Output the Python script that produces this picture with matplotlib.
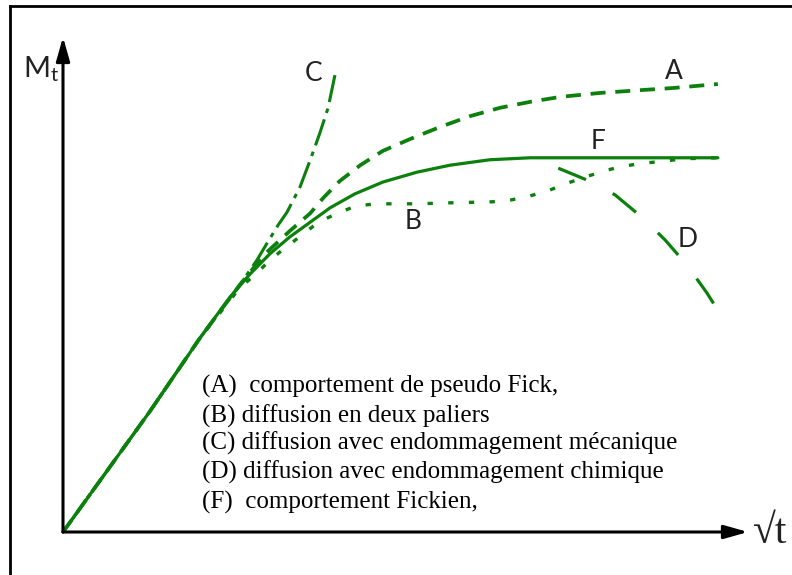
import matplotlib.pyplot as plt
from matplotlib.lines import Line2D

# Sorption curves M_t vs sqrt(t), arbitrary units (0-100 on both axes)
x_F = [0, 12.7, 20.0, 24.4, 27.3, 30.2, 33.1, 36.1, 39.0, 42.6, 46.7, 51.7, 56.5, 62.3, 68.2, 78.4, 95.6]
y_F = [0, 24.4, 39.2, 47.5, 52.1, 56.2, 59.6, 62.6, 65.5, 68.3, 70.7, 72.7, 74.1, 75.2, 75.6, 75.6, 75.6]

x_A = [0, 12.7, 20.0, 25.8, 29.5, 33.1, 36.1, 38.0, 40.4, 43.4, 46.7, 50.7, 55.0, 59.4, 63.8, 68.2,
       72.6, 78.4, 84.7, 89.1, 95.6]
y_A = [0, 24.4, 39.2, 49.9, 56.2, 60.8, 64.4, 67.5, 70.9, 74.1, 77.0, 79.4, 81.8, 84.0, 85.7, 86.9,
       87.9, 88.7, 89.3, 89.7, 90.5]

x_B = [0, 12.7, 20.0, 25.8, 28.3, 30.2, 32.4, 34.9, 37.1, 40.0, 42.9, 45.8, 51.7, 56.5, 62.6, 65.5,
       68.2, 71.1, 73.7, 76.2, 79.4, 81.8, 84.7, 87.6, 90.5, 95.6]
y_B = [0, 24.4, 39.2, 49.3, 52.3, 54.9, 57.4, 60.0, 62.4, 64.4, 65.9, 66.3, 66.3, 66.5, 66.7, 67.1,
       67.9, 69.1, 70.5, 71.7, 73.1, 73.9, 74.5, 74.9, 75.4, 75.6]

x_C = [0, 12.7, 20.0, 25.8, 28.3, 29.9, 31.4, 32.7, 34.6, 36.1, 37.5, 38.7, 39.7]
y_C = [0, 24.4, 39.2, 49.9, 54.9, 58.6, 62.0, 64.6, 69.7, 75.2, 80.6, 85.7, 92.3]

x_D = [72.3, 76.5, 80.6, 84.5, 87.9, 91.1, 94.0, 95.6]
y_D = [73.5, 71.1, 68.1, 63.6, 59.0, 53.9, 48.3, 44.8]

curve_labels = ["C", "A", "F", "B", "D"]
label_x = [36.6, 89.2, 78.1, 51.1, 91.2]
label_y = [92.7, 93.1, 78.8, 62.8, 59.0]

legend_lines = [
    "(A)  comportement de pseudo Fick,",
    "(B) diffusion en deux paliers",
    "(C) diffusion avec endommagement mécanique",
    "(D) diffusion avec endommagement chimique",
    "(F)  comportement Fickien,",
]

green = "#0c800c"

fig = plt.figure(figsize=(7.92, 5.75), dpi=100)
ax = fig.add_axes([0, 0, 1, 1])
ax.set_xlim(-63 / 6.85, (792 - 63) / 6.85)
ax.set_ylim(-(575 - 532) / 4.95, 532 / 4.95)
ax.axis("off")

# outer frame (left and top edges only)
fig.add_artist(Line2D([0.012, 0.012], [0, 0.9887], transform=fig.transFigure, color="black", lw=2))
fig.add_artist(Line2D([0.012, 1], [0.9887, 0.9887], transform=fig.transFigure, color="black", lw=2))

# axes with arrow heads
arrow = dict(arrowstyle="-|>,head_length=0.6,head_width=0.17", lw=2.2, color="black",
             mutation_scale=24, shrinkA=0, shrinkB=0)
ax.annotate("", xy=(0, 100), xytext=(0, 0), arrowprops=arrow)
ax.annotate("", xy=(100, 0), xytext=(0, 0), arrowprops=arrow)

ax.text(-5.84, 91.9, r"$\mathregular{M_t}$", fontsize=21, family="Lato", color="#222222",
        ha="left", va="baseline")
ax.text(100.7, -2.2, "√t", fontsize=30, family="Liberation Serif", color="#222222",
        ha="left", va="baseline")

# curves
ax.plot(x_F, y_F, color=green, lw=2.3, solid_capstyle="round")
ax.plot(x_A, y_A, color=green, lw=2.7, linestyle=(0, (4.0, 2.6)))
ax.plot(x_B, y_B, color=green, lw=2.4, linestyle=(0, (1.6, 4.6)))
# dash-dot drawn from the top end so the pattern starts with a full dash there
ax.plot(x_C[::-1], y_C[::-1], color=green, lw=2.2, linestyle=(0, (9, 2.2, 1.5, 2.2)))
ax.plot(x_D, y_D, color=green, lw=2.3, linestyle=(0, (9.4, 9.4)))

for name, lx, ly in zip(curve_labels, label_x, label_y):
    ax.text(lx, ly, name, fontsize=19, family="Lato", color="#222222", ha="center", va="center")

baselines = [28.1, 22.2, 16.6, 10.7, 4.8]
for line, by in zip(legend_lines, baselines):
    ax.text(20.3, by, line, fontsize=18, family="Liberation Serif", color="black",
            ha="left", va="baseline")

fig.savefig("out.png", dpi=100)
